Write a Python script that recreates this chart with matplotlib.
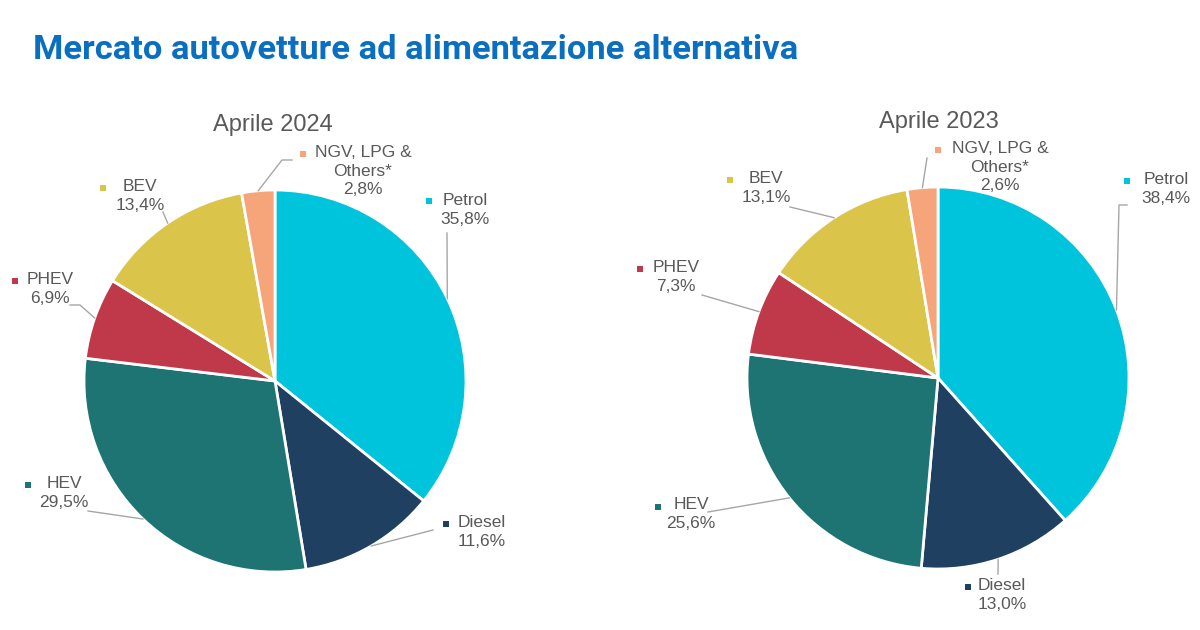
import numpy as np
import matplotlib.pyplot as plt

# data
categories = ['Petrol', 'Diesel', 'HEV', 'PHEV', 'BEV', 'NGV, LPG &\nOthers*']
share_2024 = [35.8, 11.6, 29.5, 6.9, 13.4, 2.8]
share_2023 = [38.4, 13.0, 25.6, 7.3, 13.1, 2.6]
colors = ['#00C3DC', '#1F4060', '#1E7373', '#C0394A', '#DBC44A', '#F6A47A']

W, H = 1200, 630
text_col = '#595959'
line_col = '#A6A6A6'


def fmt(v):
    return f'{v:.1f}'.replace('.', ',') + '%'


fig = plt.figure(figsize=(12, 6.3), dpi=100)
ax = fig.add_axes([0, 0, 1, 1])


def draw_pie(values, cx, cy, r, title, title_xy, labels):
    # cx, cy in pixels from top-left
    wedges, _ = ax.pie(values, colors=colors, center=(cx, H - cy), radius=r,
                       startangle=90, counterclock=False,
                       wedgeprops=dict(edgecolor='white', linewidth=2))
    ax.text(title_xy[0], H - title_xy[1], title, ha='center', va='center',
            fontsize=17, color=text_col, family='Liberation Sans')
    for w, name, v, lab in zip(wedges, categories, values, labels):
        sq, txt, path = lab
        ax.scatter([sq[0]], [H - sq[1]], marker='s', s=22, color=w.get_facecolor(),
                   zorder=5, linewidths=0)
        ax.text(txt[0], H - txt[1], name + '\n' + fmt(v), ha='center', va='top',
                fontsize=12.5, color=text_col, family='Liberation Sans',
                linespacing=1.3)
        # leader line from the wedge middle on the rim
        a = np.deg2rad((w.theta1 + w.theta2) / 2)
        ex, ey = cx + r * np.cos(a), (H - cy) + r * np.sin(a)
        xs = [ex] + [p[0] for p in path]
        ys = [ey] + [H - p[1] for p in path]
        ax.plot(xs, ys, color=line_col, lw=1, zorder=4)


# label layout: (square, text top-center, leader points)
labels_2024 = [
    ((429, 201), (465, 193), [(447, 233)]),
    ((446, 524), (482, 515), [(433, 530)]),
    ((28, 485), (64, 476), [(88, 511)]),
    ((15, 281), (50, 272), [(80, 305), (70, 305)]),
    ((103, 188), (140, 179), [(163, 212)]),
    ((303, 154), (363, 145), [(282, 160), (292, 160)]),
]
labels_2023 = [
    ((1127, 181), (1166, 172), [(1119, 205), (1127, 205)]),
    ((968, 587), (1002, 578), [(998, 574)]),
    ((658, 507), (691, 497), [(708, 512)]),
    ((640, 269), (676, 260), [(702, 295)]),
    ((730, 180), (766, 171), [(790, 207)]),
    ((938, 150), (1000, 141), [(927, 158)]),
]

draw_pie(share_2024, 275, 381, 191, 'Aprile 2024', (273, 125), labels_2024)
draw_pie(share_2023, 938, 378, 191, 'Aprile 2023', (939, 122), labels_2023)

ax.text(33, H - 50, 'Mercato autovetture ad alimentazione alternativa',
        ha='left', va='center', fontsize=24.8, fontweight='bold', color='#0B6FC1',
        family=['Liberation Sans Narrow', 'Roboto'])

ax.set_xlim(0, W)
ax.set_ylim(0, H)
ax.set_aspect('equal')
ax.axis('off')

fig.savefig('out.png', dpi=100, facecolor='white')
